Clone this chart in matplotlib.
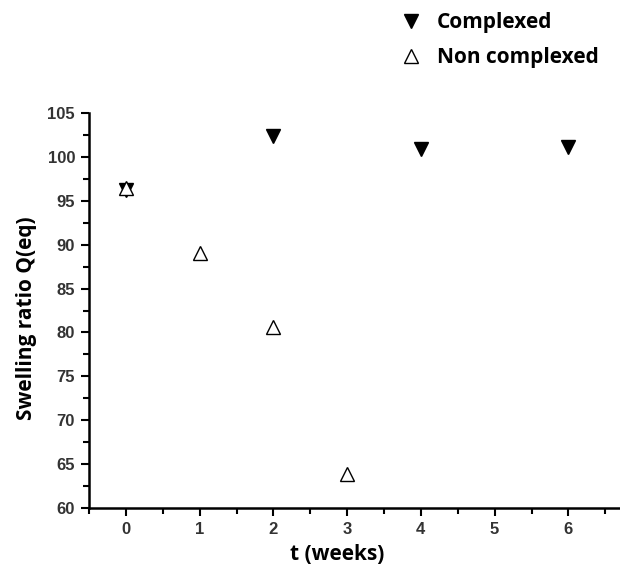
import matplotlib
matplotlib.use("Agg")
import matplotlib.pyplot as plt
from matplotlib.ticker import MultipleLocator

# Data
weeks_complexed = [0, 2, 4, 6]
q_complexed = [96.2, 102.4, 100.9, 101.1]
weeks_non = [0, 1, 2, 3]
q_non = [96.4, 89.1, 80.6, 63.9]
xticks = [0, 1, 2, 3, 4, 5, 6]
yticks = [60, 65, 70, 75, 80, 85, 90, 95, 100, 105]

fig = plt.figure(figsize=(6.2, 5.69), dpi=100)
ax = fig.add_axes([89/620, 1-508/569, 1-89/620, (508-113)/569])

ax.plot(weeks_complexed, q_complexed, linestyle='none', marker='v', markersize=10,
        color='black', label='Complexed')
ax.plot(weeks_non, q_non, linestyle='none', marker='^', markersize=10,
        markerfacecolor='white', markeredgecolor='black', markeredgewidth=1.0,
        label='Non complexed')

ax.set_xlim(-0.5, 6.7)
ax.set_ylim(60, 105)
ax.set_xticks(xticks)
ax.set_yticks(yticks)
ax.xaxis.set_minor_locator(MultipleLocator(0.5))
ax.yaxis.set_minor_locator(MultipleLocator(2.5))

for s in ['top', 'right']:
    ax.spines[s].set_visible(False)
for s in ['left', 'bottom']:
    ax.spines[s].set_linewidth(1.8)

ax.tick_params(which='major', direction='out', length=6, width=1.5,
               labelsize=12, labelcolor='#333333', pad=4)
ax.tick_params(which='minor', direction='out', length=4, width=1.5)
for lab in ax.get_xticklabels() + ax.get_yticklabels():
    lab.set_fontweight('bold')
    lab.set_family('Liberation Sans')

ax.set_xlabel('t (weeks)', fontsize=15, fontweight='bold', family='Open Sans')
ax.set_ylabel('Swelling ratio Q(eq)', fontsize=15, fontweight='bold', family='Open Sans')
ax.xaxis.set_label_coords((337-89)/531, -(544-508)/395)
ax.yaxis.set_label_coords(-(89-37)/531, (508-318)/395)

leg = fig.legend(loc='upper left', bbox_to_anchor=(387/620, 1.0 - 4/569), frameon=False,
                 prop={'family': 'Open Sans', 'weight': 'bold', 'size': 15},
                 handletextpad=0.5, labelspacing=0.65, handlelength=1.5,
                 borderaxespad=0.0)

fig.savefig('out.png', dpi=100)
